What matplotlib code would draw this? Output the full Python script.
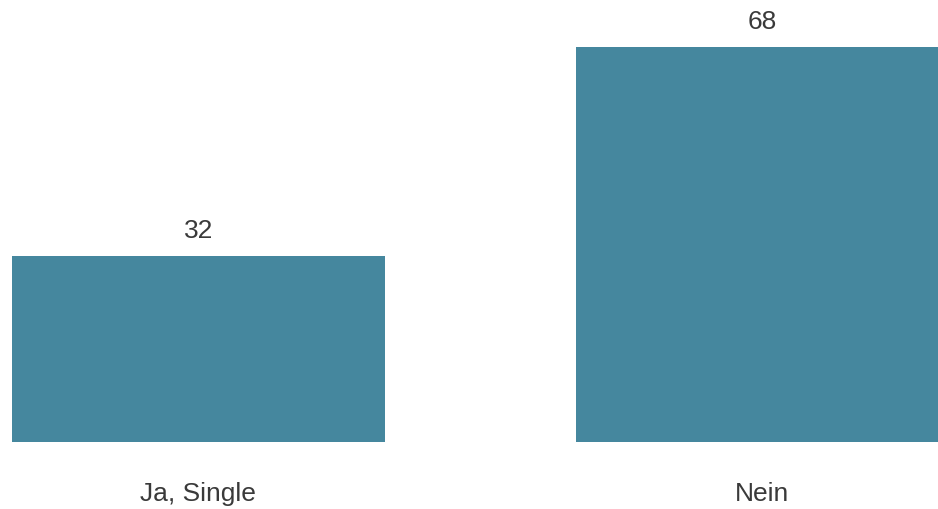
import matplotlib.pyplot as plt

categories = ['Ja, Single', 'Nein']
values = [32, 68]

plt.rcParams['font.family'] = ['Liberation Sans', 'DejaVu Sans']

fig = plt.figure(figsize=(9.38, 5.09), dpi=100)
ax = fig.add_axes([0, 67 / 509, 1, 442 / 509])

x = list(range(len(categories)))
bars = ax.bar(x, values, width=0.662, color='#45879e')

for b, v in zip(bars, values):
    ax.annotate(str(v), (b.get_x() + b.get_width() / 2, b.get_height()),
                xytext=(0, 9), textcoords='offset points',
                ha='center', va='bottom', fontsize=19, color='#3a3a3a')

ax.set_xlim(-0.352, 1.312)
ax.set_ylim(0, 76.0)
ax.set_xticks(x)
ax.set_xticklabels(categories, fontsize=19, color='#3a3a3a')
ax.tick_params(axis='x', length=0, pad=29)
ax.set_yticks([])
for s in ax.spines.values():
    s.set_visible(False)

fig.savefig('out.png', dpi=100)
